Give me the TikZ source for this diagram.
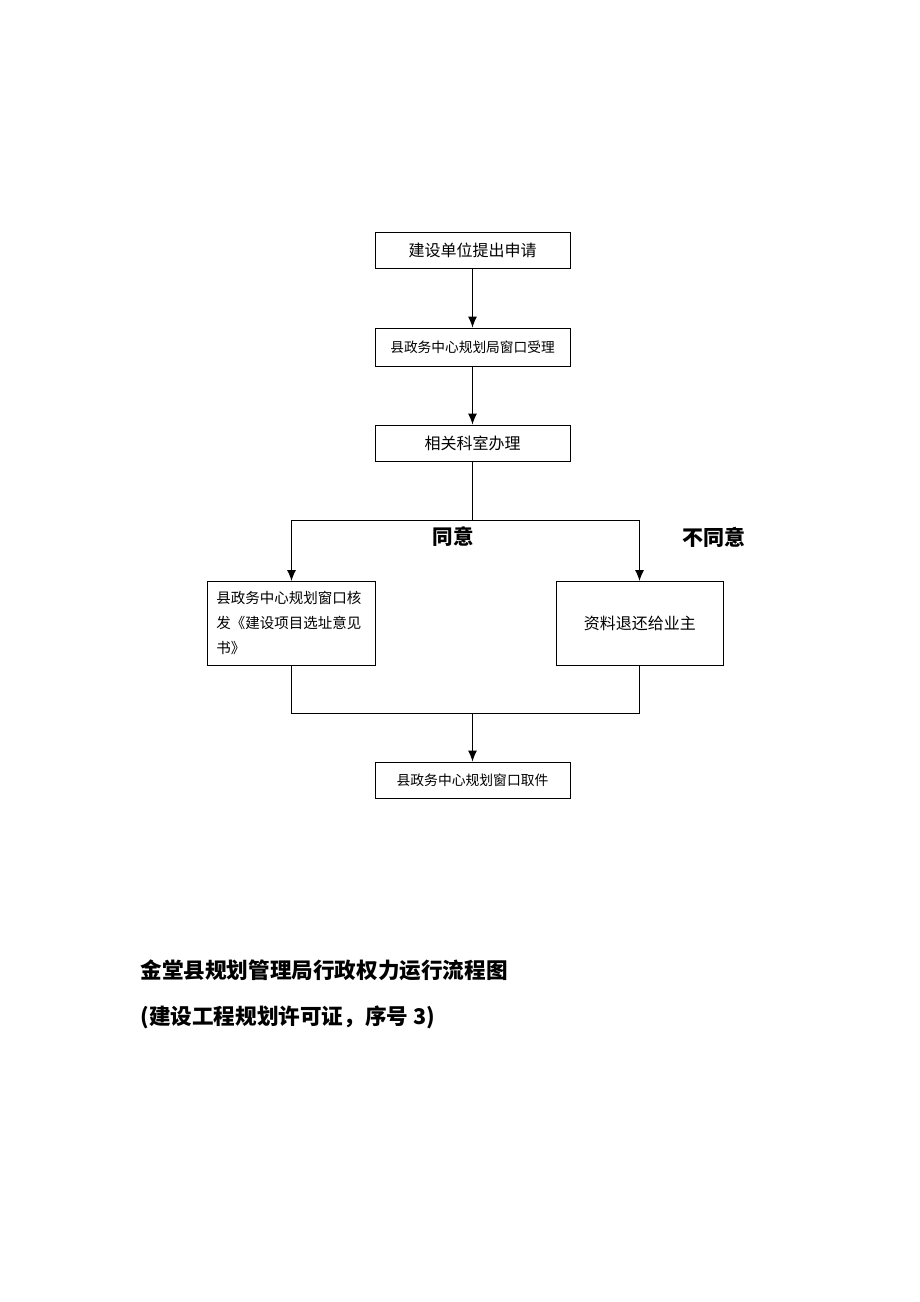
\documentclass[tikz,border=0pt]{standalone}
\usepackage{fontspec}
\newfontfamily\cjk{Noto Sans CJK SC}
\usetikzlibrary{arrows.meta}
\begin{document}
\begin{tikzpicture}[x=1pt,y=-1pt,
  box/.style={draw,line width=0.9pt,inner sep=0pt,font=\cjk\fontsize{16}{19}\selectfont},
  arr/.style={line width=1pt,-{Latex[length=11pt,width=9pt]}},
  ln/.style={line width=1pt}]
\useasboundingbox (0,0) rectangle (920,1302);
\node[box,minimum width=195pt,minimum height=36pt] (b1) at (472.5,250) {建设单位提出申请};
\node[box,minimum width=195pt,minimum height=38pt,font=\cjk\fontsize{13.7}{16}\selectfont] (b2) at (472.5,347) {县政务中心规划局窗口受理};
\node[box,minimum width=195pt,minimum height=36pt] (b3) at (472.5,443) {相关科室办理};
\node[box,minimum width=168pt,minimum height=84pt,align=left,font=\cjk\fontsize{14.5}{25}\selectfont,anchor=north west] (bl) at (207,581) {\parbox[c][84pt][c]{150pt}{县政务中心规划窗口核\\发《建设项目选址意见\\书》}};
\node[box,minimum width=167pt,minimum height=84pt,anchor=north west] (br) at (556,581) {资料退还给业主};
\node[box,minimum width=195pt,minimum height=36pt,font=\cjk\fontsize{13.8}{16}\selectfont] (b5) at (472.5,780) {县政务中心规划窗口取件};
\coordinate (s) at (472.5,520);
\coordinate (sl) at (291.5,520);
\coordinate (sr) at (639.5,520);
\coordinate (j) at (472.5,713);
\coordinate (jl) at (291.5,713);
\coordinate (jr) at (639.5,713);
\draw[arr] (b1) -- (b2);
\draw[arr] (b2) -- (b3);
\draw[ln] (b3.south) -- (s);
\draw[arr] (s) -- (sl) -- (sl |- bl.north);
\draw[arr] (s) -- (sr) -- (sr |- br.north);
\draw[ln] (bl.south -| jl) -- (jl) -- (jr) -- (br.south -| jr);
\draw[arr] (j) -- (b5);
\node[font=\cjk\bfseries\fontsize{20.5}{24}\selectfont] (t1) at (453,537) {同意};
\node[font=\cjk\bfseries\fontsize{21}{24}\selectfont] (t2) at (714,537) {不同意};
\node[anchor=west,font=\cjk\bfseries\fontsize{21.6}{26}\selectfont] (ti1) at (137,970) {金堂县规划管理局行政权力运行流程图};
\node[anchor=west,font=\cjk\bfseries\fontsize{21.6}{26}\selectfont] (ti2) at (137,1017) {(建设工程规划许可证，序号 3)};
\end{tikzpicture}
\end{document}
